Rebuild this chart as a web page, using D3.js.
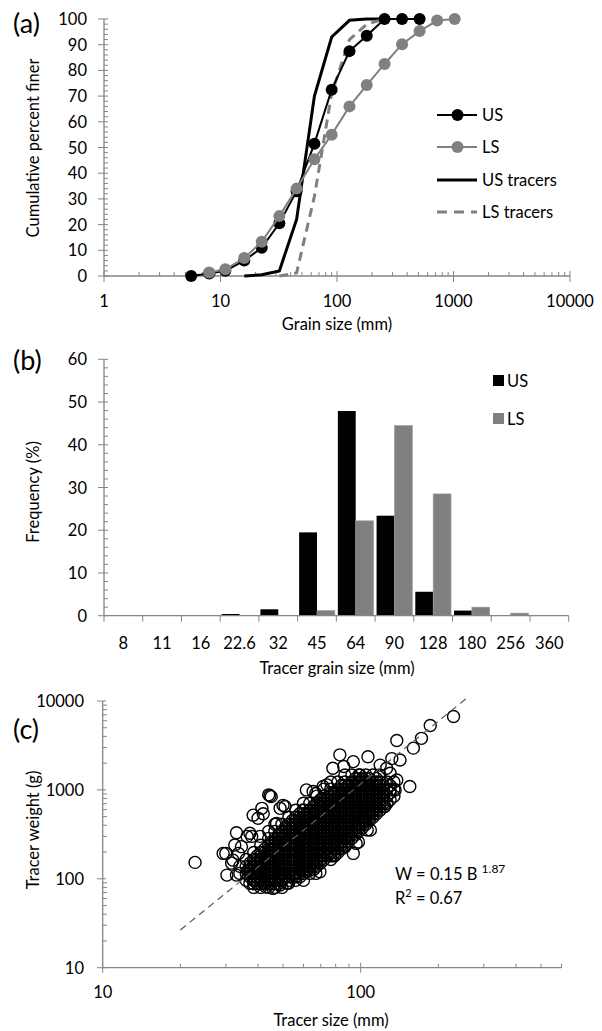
<!DOCTYPE html>
<meta charset="utf-8" />
<script src="https://d3js.org/d3.v7.min.js"></script>
<style>
  body { margin: 0; background: #fff; }
  text { font-family: Lato, "Open Sans", sans-serif; fill: #000; font-size: 16.5px; }
</style>
<body>
<div id="my_dataviz"></div>
<script>
// ---------- panel (a): cumulative grain size curves ----------
var usSize = [5.6, 8, 11, 16, 22.6, 32, 45, 64, 90, 128, 180, 256, 362, 512];
var usFiner = [0, 1, 2, 6, 11, 20.5, 33, 51.5, 72.5, 87.5, 93.5, 100, 100, 100];
var lsSize = [8, 11, 16, 22.6, 32, 45, 64, 90, 128, 180, 256, 362, 512, 724, 1024];
var lsFiner = [1.4, 2.6, 7, 13.3, 23.3, 34, 45.4, 55, 66, 74.3, 82.5, 90.2, 95.3, 99.4, 100];
var usTracerSize = [16, 22.6, 32, 45, 64, 90, 128, 180, 256];
var usTracerFiner = [0, 0.5, 2, 22, 70, 93, 99.5, 100, 100];
var lsTracerSize = [32, 45, 64, 90, 128, 180, 256];
var lsTracerFiner = [0, 1.2, 31, 71, 92, 98, 100];
var aXTicks = [1, 10, 100, 1000, 10000];

// ---------- panel (b): tracer frequency ----------
var sizeClasses = ["8", "11", "16", "22.6", "32", "45", "64", "90", "128", "180", "256", "360"];
var usFreq = [0, 0, 0, 0.4, 1.5, 19.5, 47.9, 23.4, 5.6, 1.2, 0, 0];
var lsFreq = [0, 0, 0, 0, 0, 1.2, 22.2, 44.5, 28.5, 2.0, 0.6, 0];

// ---------- panel (c): tracer size vs weight ----------
// scattered circles around the cloud [size mm, weight g]
var outliers = [
  [22.8,153],[30,193],[30.3,110],[33,330],[32.5,240],[34.5,230],[32,162],[37.8,300],
  [38.3,520],[41.4,620],[44.5,860],[44,880],[50.9,650],[50,670],[40.7,300],[36.6,126],
  [38.3,97],[45.7,78],[51.7,89],[56,106],[61.6,120],[67,115],[61.6,1000],[65.4,960],
  [71.5,1090],[59.9,594],[229,6700],[186,5300],[172,3800],[160,2950],[138,3600],[155,1090],
  [142,2170],[132,2250],[83,2480],[93.6,2080],[106.7,2360],[119,1900],[86,1830],[124,650],
  [109,354],[96,250],[93.6,193],[79.5,185],[69.5,120],[103,458],[130,997],[138,1290],
  [99.4,1470],[29.3,193],[31.6,150],[33.6,193],[36.3,300],[37.2,325],[40,480],[41.9,540],
  [45,840],[48.7,620],[47.2,420],[67,910],[74,1140],[33,110],[37.2,89],[43,81],[48.7,85],
  [52.5,89],[76,193],[87,230],[98,260],[106,354],[136,997],[78,1750],[126,1750],[130,1540]
];
// dense core of the cloud, column by column: size, then weights
var coreB = [34, 36, 38.5, 41, 44, 46.5, 49.5, 52.7, 56, 60, 63.5, 67.6, 72, 76.6, 81.6, 86.8, 92.4, 98.4, 104.7, 111.5, 118.7, 126.4, 134.5];
var coreW = [
  [115,138],
  [96,115,138,165],
  [80,96,115,138,165,198],
  [80,96,115,138,165,198,238],
  [80,96,115,138,165,198,238,285,342],
  [80,96,115,138,165,198,238,285,342,410],
  [80,96,115,138,165,198,238,285,342,410],
  [96,115,138,165,198,238,285,342,410,492],
  [96,115,138,165,198,238,285,342,410,492,590],
  [96,115,138,165,198,238,285,342,410,492,590,708],
  [115,138,165,198,238,285,342,410,492,590,708],
  [138,165,198,238,285,342,410,492,590,708,850],
  [165,198,238,285,342,410,492,590,708,850,1020],
  [165,198,238,285,342,410,492,590,708,850,1020,1225],
  [198,238,285,342,410,492,590,708,850,1020,1225],
  [238,285,342,410,492,590,708,850,1020,1225,1470],
  [285,342,410,492,590,708,850,1020,1225,1470],
  [342,410,492,590,708,850,1020,1225,1470],
  [410,492,590,708,850,1020,1225,1470],
  [492,590,708,850,1020,1225,1470],
  [590,708,850,1020,1225,1470],
  [708,850,1020,1225],
  [850,1020,1225]
];
var coreW4 = [
  [], [], [88,105,126,151], [88,105,126,151,181], [88,105,126,151,181,217],
  [88,105,126,151,181,217,260], [105,126,151,181,217,260,312], [105,126,151,181,217,260,312,375],
  [105,126,151,181,217,260,312,375,450], [126,151,181,217,260,312,375,450,540],
  [126,151,181,217,260,312,375,450,540], [151,181,217,260,312,375,450,540,648],
  [181,217,260,312,375,450,540,648,775], [181,217,260,312,375,450,540,648,775,930],
  [217,260,312,375,450,540,648,775,930], [260,312,375,450,540,648,775,930,1120],
  [312,375,450,540,648,775,930,1120], [375,450,540,648,775,930,1120,1340],
  [450,540,648,775,930,1120,1340], [540,648,775,930,1120], [648,775,930,1120], [], []
];
var coreB2 = [37.3, 39.7, 42.5, 45.2, 48, 51, 54.3, 58, 61.7, 65.5, 69.8, 74.3, 79, 84.2, 89.5, 95.4, 101.5, 108, 115, 122.5, 130];
var coreW2 = [
  [105,126,151],
  [88,105,126,151,181],
  [88,105,126,151,181,217],
  [88,105,126,151,181,217,260],
  [88,105,126,151,181,217,260,312],
  [105,126,151,181,217,260,312,375],
  [105,126,151,181,217,260,312,375,450],
  [105,126,151,181,217,260,312,375,450,540],
  [126,151,181,217,260,312,375,450,540],
  [126,151,181,217,260,312,375,450,540,648],
  [151,181,217,260,312,375,450,540,648,775],
  [181,217,260,312,375,450,540,648,775],
  [181,217,260,312,375,450,540,648,775,930],
  [217,260,312,375,450,540,648,775,930,1120],
  [260,312,375,450,540,648,775,930,1120],
  [312,375,450,540,648,775,930,1120,1340],
  [375,450,540,648,775,930,1120,1340],
  [450,540,648,775,930,1120,1340],
  [540,648,775,930,1120,1340],
  [648,775,930,1120],
  [775,930,1120]
];
var coreW3 = [
  [115,138], [96,115,138,165], [96,115,138,165,198], [96,115,138,165,198,238],
  [96,115,138,165,198,238,285], [115,138,165,198,238,285,342], [115,138,165,198,238,285,342,410],
  [115,138,165,198,238,285,342,410,492], [138,165,198,238,285,342,410,492],
  [138,165,198,238,285,342,410,492,590], [165,198,238,285,342,410,492,590,708],
  [198,238,285,342,410,492,590,708], [198,238,285,342,410,492,590,708,850],
  [238,285,342,410,492,590,708,850,1020], [285,342,410,492,590,708,850,1020],
  [342,410,492,590,708,850,1020,1225], [410,492,590,708,850,1020,1225],
  [492,590,708,850,1020,1225], [590,708,850,1020,1225], [708,850,1020], []
];
var trendB = [20, 257];
var trendW = [26.6, 10700];

var axisCol = "#868686", gray = "#808080";

var svg = d3.select("#my_dataviz").append("svg")
  .attr("width", 602).attr("height", 1031);

function zip(xs, ys) { return xs.map(function (v, i) { return [v, ys[i]]; }); }

// ================= (a) =================
var xa = d3.scaleLog().domain([1, 10000]).range([104, 570]);
var ya = d3.scaleLinear().domain([0, 100]).range([276, 19]);
var ga = svg.append("g");

// y axis: major ticks outside, minor ticks inside
ga.append("line").attr("x1", 104).attr("x2", 104).attr("y1", ya(0)).attr("y2", ya(100)).attr("stroke", axisCol).attr("stroke-width", 1.3);
d3.range(0, 101, 2).forEach(function (v) {
  var major = v % 10 === 0;
  ga.append("line").attr("x1", major ? 98 : 104).attr("x2", 108).attr("y1", ya(v)).attr("y2", ya(v)).attr("stroke", axisCol);
  if (major) ga.append("text").attr("x", 87).attr("y", ya(v) + 6).attr("text-anchor", "end").text(v);
});
// x axis
ga.append("line").attr("x1", xa(1)).attr("x2", xa(10000)).attr("y1", 276).attr("y2", 276).attr("stroke", axisCol).attr("stroke-width", 1.3);
aXTicks.forEach(function (d, i) {
  ga.append("line").attr("x1", xa(d)).attr("x2", xa(d)).attr("y1", 271).attr("y2", 282).attr("stroke", axisCol);
  ga.append("text").attr("x", xa(d)).attr("y", 307).attr("text-anchor", "middle").text(d);
  if (i < aXTicks.length - 1) d3.range(2, 10).forEach(function (m) {
    ga.append("line").attr("x1", xa(d * m)).attr("x2", xa(d * m)).attr("y1", 272).attr("y2", 276).attr("stroke", axisCol);
  });
});
ga.append("text").attr("x", 337).attr("y", 330).attr("text-anchor", "middle").text("Grain size (mm)");
ga.append("text").attr("transform", "translate(39,148) rotate(-90)").attr("text-anchor", "middle").text("Cumulative percent finer");
ga.append("text").attr("x", 13).attr("y", 33).style("font-size", "27px").text("(a)");

var lineA = d3.line().x(function (d) { return xa(d[0]); }).y(function (d) { return ya(d[1]); });
ga.append("path").datum(zip(usTracerSize, usTracerFiner)).attr("d", lineA).attr("fill", "none").attr("stroke", "#000").attr("stroke-width", 3);
ga.append("path").datum(zip(lsTracerSize, lsTracerFiner)).attr("d", lineA).attr("fill", "none").attr("stroke", gray).attr("stroke-width", 3).attr("stroke-dasharray", "9,6");
ga.append("path").datum(zip(usSize, usFiner)).attr("d", lineA).attr("fill", "none").attr("stroke", "#000").attr("stroke-width", 2);
ga.selectAll(".us").data(zip(usSize, usFiner)).enter().append("circle")
  .attr("cx", function (d) { return xa(d[0]); }).attr("cy", function (d) { return ya(d[1]); }).attr("r", 6).attr("fill", "#000");
ga.append("path").datum(zip(lsSize, lsFiner)).attr("d", lineA).attr("fill", "none").attr("stroke", gray).attr("stroke-width", 2);
ga.selectAll(".ls").data(zip(lsSize, lsFiner)).enter().append("circle")
  .attr("cx", function (d) { return xa(d[0]); }).attr("cy", function (d) { return ya(d[1]); }).attr("r", 6).attr("fill", gray);

// legend (a)
var legA = [
  { name: "US", color: "#000", w: 2, dash: null, dot: true, y: 115 },
  { name: "LS", color: gray, w: 2, dash: null, dot: true, y: 147 },
  { name: "US tracers", color: "#000", w: 3, dash: null, dot: false, y: 180 },
  { name: "LS tracers", color: gray, w: 3, dash: "10,7", dot: false, y: 212 }
];
legA.forEach(function (l) {
  ga.append("line").attr("x1", 437).attr("x2", 477).attr("y1", l.y).attr("y2", l.y).attr("stroke", l.color).attr("stroke-width", l.w).attr("stroke-dasharray", l.dash);
  if (l.dot) ga.append("circle").attr("cx", 457.5).attr("cy", l.y).attr("r", 6).attr("fill", l.color);
  ga.append("text").attr("x", 482).attr("y", l.y + 6).text(l.name);
});

// ================= (b) =================
var xb = d3.scaleBand().domain(sizeClasses).range([104, 568.7]);
var yb = d3.scaleLinear().domain([0, 60]).range([615.7, 359.3]);
var gb = svg.append("g");
var bw = xb.bandwidth();

gb.selectAll(".usb").data(sizeClasses).enter().append("rect")
  .attr("x", function (d) { return xb(d) + 1.5; })
  .attr("y", function (d, i) { return yb(usFreq[i]); })
  .attr("width", bw / 2 - 1.5)
  .attr("height", function (d, i) { return yb(0) - yb(usFreq[i]); })
  .attr("fill", "#000");
gb.selectAll(".lsb").data(sizeClasses).enter().append("rect")
  .attr("x", function (d) { return xb(d) + bw / 2; })
  .attr("y", function (d, i) { return yb(lsFreq[i]); })
  .attr("width", bw / 2 - 1.5)
  .attr("height", function (d, i) { return yb(0) - yb(lsFreq[i]); })
  .attr("fill", gray).attr("stroke", "#9a9a9a").attr("stroke-width", 0.6);

gb.append("line").attr("x1", 104).attr("x2", 104).attr("y1", yb(0)).attr("y2", yb(60)).attr("stroke", axisCol).attr("stroke-width", 1.3);
d3.range(0, 61, 2).forEach(function (v) {
  var major = v % 10 === 0;
  gb.append("line").attr("x1", major ? 98 : 104).attr("x2", 108).attr("y1", yb(v)).attr("y2", yb(v)).attr("stroke", axisCol);
  if (major) gb.append("text").attr("x", 87).attr("y", yb(v) + 6).attr("text-anchor", "end").text(v);
});
gb.append("line").attr("x1", 104).attr("x2", 568.7).attr("y1", yb(0)).attr("y2", yb(0)).attr("stroke", axisCol).attr("stroke-width", 1.3);
sizeClasses.forEach(function (c) {
  gb.append("line").attr("x1", xb(c)).attr("x2", xb(c)).attr("y1", yb(0)).attr("y2", yb(0) + 6).attr("stroke", axisCol);
  gb.append("text").attr("x", xb(c) + bw / 2).attr("y", 649).attr("text-anchor", "middle").text(c);
});
gb.append("line").attr("x1", 568.7).attr("x2", 568.7).attr("y1", yb(0)).attr("y2", yb(0) + 6).attr("stroke", axisCol);
gb.append("text").attr("x", 337).attr("y", 674).attr("text-anchor", "middle").text("Tracer grain size (mm)");
gb.append("text").attr("transform", "translate(39,492) rotate(-90)").attr("text-anchor", "middle").text("Frequency (%)");
gb.append("text").attr("x", 13).attr("y", 370).style("font-size", "27px").text("(b)");

[{ name: "US", color: "#000", y: 375 }, { name: "LS", color: gray, y: 413 }].forEach(function (l) {
  gb.append("rect").attr("x", 493).attr("y", l.y).attr("width", 11).attr("height", 11).attr("fill", l.color);
  gb.append("text").attr("x", 507).attr("y", l.y + 12).text(l.name);
});

// ================= (c) =================
var xc = d3.scaleLog().domain([10, 600]).range([102.7, 102.7 + 258 * Math.log10(60)]);
var yc = d3.scaleLog().domain([10, 10000]).range([967.7, 701]);
var gc = svg.append("g");

gc.append("line").attr("x1", xc(10)).attr("x2", xc(10)).attr("y1", yc(10)).attr("y2", yc(10000)).attr("stroke", axisCol).attr("stroke-width", 1.3);
[10, 100, 1000].forEach(function (d) {
  d3.range(2, 10).forEach(function (m) {
    gc.append("line").attr("x1", 102.7).attr("x2", 107).attr("y1", yc(d * m)).attr("y2", yc(d * m)).attr("stroke", axisCol);
  });
});
[10, 100, 1000, 10000].forEach(function (d) {
  gc.append("line").attr("x1", 97).attr("x2", 106).attr("y1", yc(d)).attr("y2", yc(d)).attr("stroke", axisCol);
  gc.append("text").attr("x", 84).attr("y", yc(d) + 6).attr("text-anchor", "end").text(d);
});
gc.append("line").attr("x1", xc(10)).attr("x2", xc(600)).attr("y1", yc(10)).attr("y2", yc(10)).attr("stroke", axisCol).attr("stroke-width", 1.3);
[20, 30, 40, 50, 60, 70, 80, 90, 200, 300, 400, 500, 600].forEach(function (v) {
  gc.append("line").attr("x1", xc(v)).attr("x2", xc(v)).attr("y1", yc(10) - 4).attr("y2", yc(10)).attr("stroke", axisCol);
});
[10, 100].forEach(function (d) {
  gc.append("line").attr("x1", xc(d)).attr("x2", xc(d)).attr("y1", yc(10) - 5).attr("y2", yc(10) + 5).attr("stroke", axisCol);
  gc.append("text").attr("x", xc(d)).attr("y", 998).attr("text-anchor", "middle").text(d);
});
gc.append("text").attr("x", 331).attr("y", 1026).attr("text-anchor", "middle").text("Tracer size (mm)");
gc.append("text").attr("transform", "translate(39,830) rotate(-90)").attr("text-anchor", "middle").text("Tracer weight (g)");
gc.append("text").attr("x", 13).attr("y", 739).style("font-size", "27px").text("(c)");

var pts = outliers.slice();
coreB.forEach(function (b, i) {
  coreW[i].forEach(function (w) { pts.push([b, w]); });
  coreW4[i].forEach(function (w) { pts.push([b, w]); });
});
coreB2.forEach(function (b, i) {
  coreW2[i].forEach(function (w) { pts.push([b, w]); });
  coreW3[i].forEach(function (w) { pts.push([b, w]); });
});

gc.selectAll(".pt").data(pts).enter().append("circle")
  .attr("cx", function (d) { return xc(d[0]); }).attr("cy", function (d) { return yc(d[1]); })
  .attr("r", 6).attr("fill", "none").attr("stroke", "#000").attr("stroke-width", 1.4);

gc.append("line").attr("x1", xc(trendB[0])).attr("y1", yc(trendW[0])).attr("x2", xc(trendB[1])).attr("y2", yc(trendW[1]))
  .attr("stroke", "#5a5a5a").attr("stroke-width", 1.2).attr("stroke-dasharray", "7,5");

var eq = gc.append("text").attr("x", 395).attr("y", 880);
eq.append("tspan").text("W = 0.15 B ");
eq.append("tspan").attr("dy", -7).style("font-size", "12px").text("1.87");
var r2 = gc.append("text").attr("x", 395).attr("y", 904);
r2.append("tspan").text("R");
r2.append("tspan").attr("dy", -7).style("font-size", "11px").text("2");
r2.append("tspan").attr("dy", 7).text(" = 0.67");
</script>
</body>
